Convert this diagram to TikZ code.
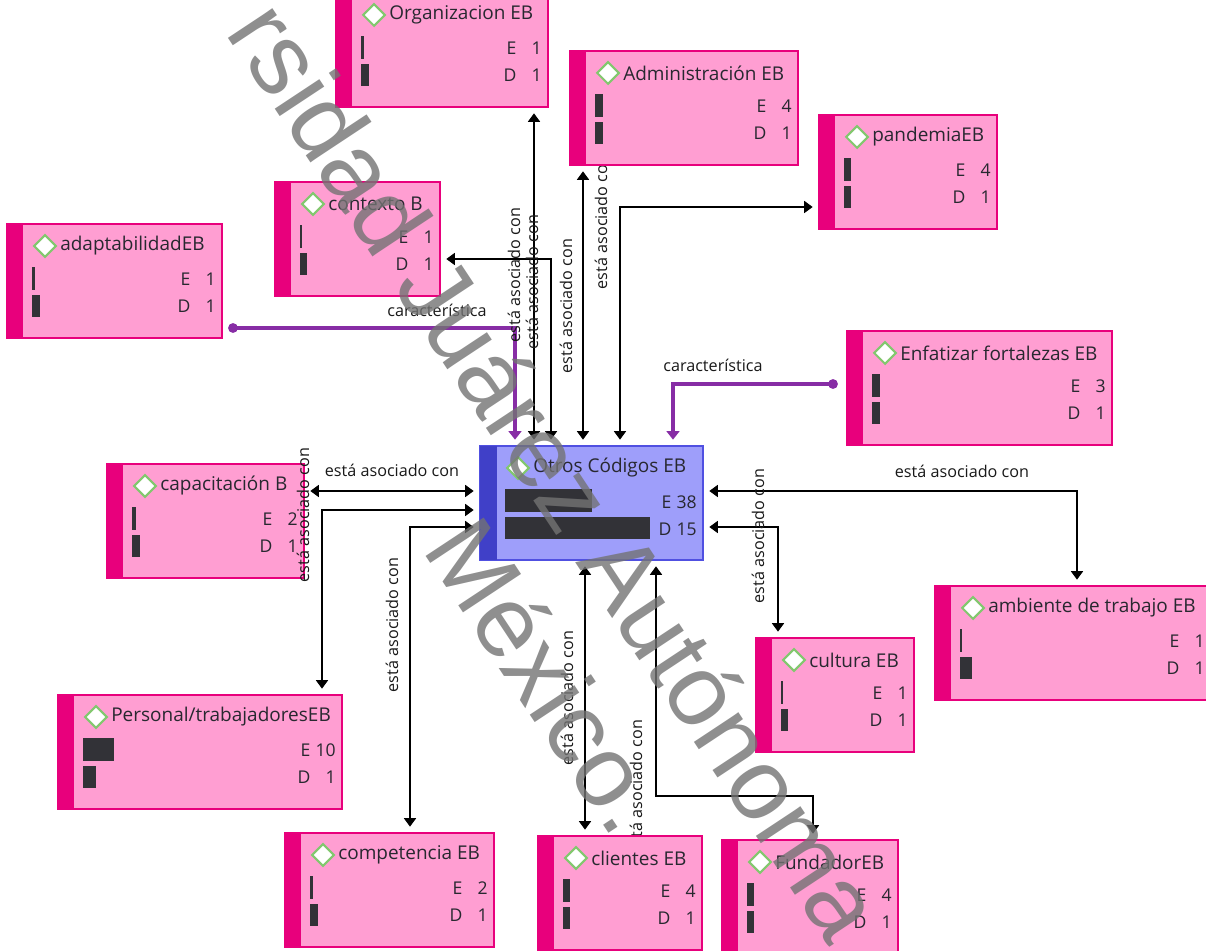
\documentclass[tikz,border=0pt]{standalone}
\usepackage{fontspec}
\setmainfont{Open Sans}
\newfontfamily\wmfont{Liberation Sans}
\usetikzlibrary{arrows.meta}
\usetikzlibrary{fit}
\usetikzlibrary{shapes.geometric}
\definecolor{boxfill}{RGB}{255,158,210}
\definecolor{boxline}{RGB}{232,0,124}
\definecolor{otrosfill}{RGB}{158,158,250}
\definecolor{otrosline}{RGB}{80,80,225}
\definecolor{otrosdark}{RGB}{64,64,200}
\definecolor{icongreen}{RGB}{130,200,110}
\definecolor{bardark}{RGB}{50,50,55}
\definecolor{txtdark}{RGB}{40,40,48}
\definecolor{purpleline}{RGB}{135,45,165}
\pgfdeclarelayer{back}
\pgfsetlayers{back,main}
\tikzset{
codebox/.style={rectangle,draw=boxline,fill=boxfill,line width=1pt,inner sep=0pt},
otrosbox/.style={rectangle,draw=otrosline,fill=otrosfill,line width=1pt,inner sep=0pt},
stripe/.style={fill=boxline},
otrosstripe/.style={fill=otrosdark},
boxicon/.style={diamond,draw=icongreen,fill=white,line width=1.5pt,inner sep=0pt,minimum width=0.56cm,minimum height=0.56cm},
boxtitle/.style={anchor=west,inner sep=0pt,text=txtdark,font=\fontsize{13.5}{15}\selectfont},
boxbar/.style={fill=bardark},
boxcount/.style={anchor=east,inner sep=0pt,text=txtdark,font=\fontsize{12.5}{14}\selectfont},
codelbl/.style={inner sep=0pt,text=black!90,font=\fontsize{11.5}{13}\selectfont},
assoc/.style={draw=black,line width=1.1pt,{Triangle[width=8.5pt,length=6pt]}-{Triangle[width=8.5pt,length=6pt]},shorten <=4pt,shorten >=4pt},
charac/.style={draw=purpleline,line width=2.6pt,-{Triangle[width=9pt,length=6pt]},shorten >=4pt},
enddot/.style={circle,fill=purpleline,inner sep=0pt,minimum size=7pt},
wmark/.style={text=black!55,opacity=0.8,inner sep=0pt,rotate=-56.5,font=\wmfont\fontsize{72}{72}\selectfont}
}
\begin{document}
\begin{tikzpicture}[x=0.025cm,y=-0.025cm]
\useasboundingbox (0,0) rectangle (1206,951);
\clip (0,0) rectangle (1206,951);

% Organizacion EB
\node[codebox,fit={(336,-7) (548,107)}] (org) {};
\fill[stripe] (336,-7) rectangle (352,107);
\node[boxicon] (orgicon) at (374,15) {};
\node[boxtitle] (orgtitle) at (389,15) {Organizacion EB};
\fill[boxbar] (361,36) rectangle (364,59);
\fill[boxbar] (361,64) rectangle (369,86);
\node[boxcount] (orgE) at (542,48) {E\hspace{4pt}\makebox[14pt][r]{1}};
\node[boxcount] (orgD) at (542,75) {D\hspace{4pt}\makebox[14pt][r]{1}};

% Administracion EB
\node[codebox,fit={(570,51) (798,165)}] (adm) {};
\fill[stripe] (570,51) rectangle (586,165);
\node[boxicon] (admicon) at (608,73) {};
\node[boxtitle] (admtitle) at (623,73) {Administración EB};
\fill[boxbar] (595,94) rectangle (603,117);
\fill[boxbar] (595,122) rectangle (603,144);
\node[boxcount] (admE) at (792,106) {E\hspace{4pt}\makebox[14pt][r]{4}};
\node[boxcount] (admD) at (792,133) {D\hspace{4pt}\makebox[14pt][r]{1}};

% pandemiaEB
\node[codebox,fit={(819,115) (997,229)}] (pan) {};
\fill[stripe] (819,115) rectangle (835,229);
\node[boxicon] (panicon) at (857,137) {};
\node[boxtitle] (pantitle) at (872,137) {pandemiaEB};
\fill[boxbar] (844,158) rectangle (851,181);
\fill[boxbar] (844,186) rectangle (851,208);
\node[boxcount] (panE) at (991,170) {E\hspace{4pt}\makebox[14pt][r]{4}};
\node[boxcount] (panD) at (991,197) {D\hspace{4pt}\makebox[14pt][r]{1}};

% contexto B
\node[codebox,fit={(275,182) (440,296)}] (ctx) {};
\fill[stripe] (275,182) rectangle (291,296);
\node[boxicon] (ctxicon) at (313,204) {};
\node[boxtitle] (ctxtitle) at (328,204) {contexto B};
\fill[boxbar] (300,225) rectangle (302,248);
\fill[boxbar] (300,253) rectangle (307,275);
\node[boxcount] (ctxE) at (434,237) {E\hspace{4pt}\makebox[14pt][r]{1}};
\node[boxcount] (ctxD) at (434,264) {D\hspace{4pt}\makebox[14pt][r]{1}};

% adaptabilidadEB
\node[codebox,fit={(7,224) (222,338)}] (ada) {};
\fill[stripe] (7,224) rectangle (23,338);
\node[boxicon] (adaicon) at (45,246) {};
\node[boxtitle] (adatitle) at (60,246) {adaptabilidadEB};
\fill[boxbar] (32,267) rectangle (35,290);
\fill[boxbar] (32,295) rectangle (40,317);
\node[boxcount] (adaE) at (216,279) {E\hspace{4pt}\makebox[14pt][r]{1}};
\node[boxcount] (adaD) at (216,306) {D\hspace{4pt}\makebox[14pt][r]{1}};

% Enfatizar fortalezas EB
\node[codebox,fit={(847,331) (1112,445)}] (enf) {};
\fill[stripe] (847,331) rectangle (863,445);
\node[boxicon] (enficon) at (885,353) {};
\node[boxtitle] (enftitle) at (900,353) {Enfatizar fortalezas EB};
\fill[boxbar] (872,374) rectangle (880,397);
\fill[boxbar] (872,402) rectangle (880,424);
\node[boxcount] (enfE) at (1106,386) {E\hspace{4pt}\makebox[14pt][r]{3}};
\node[boxcount] (enfD) at (1106,413) {D\hspace{4pt}\makebox[14pt][r]{1}};

% Otros Codigos EB
\node[otrosbox,fit={(480,446) (703,560)}] (otros) {};
\fill[otrosstripe] (480,446) rectangle (497,560);
\node[boxicon] (otrosicon) at (518,468) {};
\node[boxtitle] (otrostitle) at (533,468) {Otros Códigos EB};
\fill[boxbar] (505,489) rectangle (592,512);
\fill[boxbar] (505,517) rectangle (650,539);
\node[boxcount] (otrosE) at (697,502) {E\hspace{4pt}\makebox[14pt][r]{38}};
\node[boxcount] (otrosD) at (697,529) {D\hspace{4pt}\makebox[14pt][r]{15}};

% capacitacion B
\node[codebox,fit={(107,464) (304,578)}] (cap) {};
\fill[stripe] (107,464) rectangle (123,578);
\node[boxicon] (capicon) at (145,486) {};
\node[boxtitle] (captitle) at (160,486) {capacitación B};
\fill[boxbar] (132,507) rectangle (136,530);
\fill[boxbar] (132,535) rectangle (140,557);
\node[boxcount] (capE) at (298,519) {E\hspace{4pt}\makebox[14pt][r]{2}};
\node[boxcount] (capD) at (298,546) {D\hspace{4pt}\makebox[14pt][r]{1}};

% ambiente de trabajo EB
\node[codebox,fit={(935,586) (1212,700)}] (amb) {};
\fill[stripe] (935,586) rectangle (951,700);
\node[boxicon] (ambicon) at (973,608) {};
\node[boxtitle] (ambtitle) at (988,608) {ambiente de trabajo EB};
\fill[boxbar] (960,629) rectangle (962,652);
\fill[boxbar] (960,657) rectangle (972,679);
\node[boxcount] (ambE) at (1205,641) {E\hspace{4pt}\makebox[14pt][r]{1}};
\node[boxcount] (ambD) at (1205,668) {D\hspace{4pt}\makebox[14pt][r]{1}};

% cultura EB
\node[codebox,fit={(756,638) (914,752)}] (cul) {};
\fill[stripe] (756,638) rectangle (772,752);
\node[boxicon] (culicon) at (794,660) {};
\node[boxtitle] (cultitle) at (809,660) {cultura EB};
\fill[boxbar] (781,681) rectangle (783,704);
\fill[boxbar] (781,709) rectangle (788,731);
\node[boxcount] (culE) at (908,693) {E\hspace{4pt}\makebox[14pt][r]{1}};
\node[boxcount] (culD) at (908,720) {D\hspace{4pt}\makebox[14pt][r]{1}};

% Personal/trabajadoresEB
\node[codebox,fit={(58,695) (342,809)}] (per) {};
\fill[stripe] (58,695) rectangle (74,809);
\node[boxicon] (pericon) at (96,717) {};
\node[boxtitle] (pertitle) at (111,717) {Personal/trabajadoresEB};
\fill[boxbar] (83,738) rectangle (114,761);
\fill[boxbar] (83,766) rectangle (96,788);
\node[boxcount] (perE) at (336,750) {E\hspace{4pt}\makebox[14pt][r]{10}};
\node[boxcount] (perD) at (336,777) {D\hspace{4pt}\makebox[14pt][r]{1}};

% competencia EB
\node[codebox,fit={(285,833) (494,947)}] (com) {};
\fill[stripe] (285,833) rectangle (301,947);
\node[boxicon] (comicon) at (323,855) {};
\node[boxtitle] (comtitle) at (338,855) {competencia EB};
\fill[boxbar] (310,876) rectangle (313,899);
\fill[boxbar] (310,904) rectangle (318,926);
\node[boxcount] (comE) at (488,888) {E\hspace{4pt}\makebox[14pt][r]{2}};
\node[boxcount] (comD) at (488,915) {D\hspace{4pt}\makebox[14pt][r]{1}};

% clientes EB
\node[codebox,fit={(538,836) (702,950)}] (cli) {};
\fill[stripe] (538,836) rectangle (554,950);
\node[boxicon] (cliicon) at (576,858) {};
\node[boxtitle] (clititle) at (591,858) {clientes EB};
\fill[boxbar] (563,879) rectangle (570,902);
\fill[boxbar] (563,907) rectangle (570,929);
\node[boxcount] (cliE) at (696,891) {E\hspace{4pt}\makebox[14pt][r]{4}};
\node[boxcount] (cliD) at (696,918) {D\hspace{4pt}\makebox[14pt][r]{1}};

% FundadorEB
\node[codebox,fit={(722,840) (898,954)}] (fun) {};
\fill[stripe] (722,840) rectangle (738,954);
\node[boxicon] (funicon) at (760,862) {};
\node[boxtitle] (funtitle) at (775,862) {FundadorEB};
\fill[boxbar] (747,883) rectangle (754,906);
\fill[boxbar] (747,911) rectangle (754,933);
\node[boxcount] (funE) at (892,895) {E\hspace{4pt}\makebox[14pt][r]{4}};
\node[boxcount] (funD) at (892,922) {D\hspace{4pt}\makebox[14pt][r]{1}};

\node[enddot] (adadot) at (233,328) {};
\node[enddot] (enfdot) at (833,384) {};

\begin{pgfonlayer}{back}
\draw[assoc] (otros.north -| 534,0) -- (org.south -| 534,0);
\draw[assoc] (otros.north -| 551,0) |- (ctx.east |- 0,259);
\draw[assoc] (otros.north -| 583,0) -- (adm.south -| 583,0);
\draw[assoc] (otros.north -| 620,0) |- (pan.west |- 0,207);
\draw[assoc] (otros.west |- 0,491) -- (cap.east |- 0,491);
\draw[assoc] (otros.west |- 0,510) -| (per.north -| 322,0);
\draw[assoc] (otros.west |- 0,527) -| (com.north -| 410,0);
\draw[assoc] (otros.east |- 0,491) -| (amb.north -| 1077,0);
\draw[assoc] (otros.east |- 0,527) -| (cul.north -| 778,0);
\draw[assoc] (otros.south -| 585,0) -- (cli.north -| 585,0);
\draw[assoc] (otros.south -| 656,0) -- (656,796) -| (fun.north -| 813,0);
\draw[charac] (adadot.center) -| (otros.north -| 515,0);
\draw[charac] (enfdot.center) -| (otros.north -| 673,0);
\node[codelbl,rotate=90] (lblpan) at (601,222) {está asociado con};
\node[codelbl,rotate=90] (lblfun) at (636,787) {está asociado con};
\end{pgfonlayer}

\node[codelbl,rotate=90] (lblorg) at (514,275) {está asociado con};
\node[codelbl,rotate=90] (lblctx) at (532,282) {está asociado con};
\node[codelbl,rotate=90] (lbladm) at (566,306) {está asociado con};
\node[codelbl] (lblcap) at (392,470) {está asociado con};
\node[codelbl,rotate=90] (lblper) at (303,515) {está asociado con};
\node[codelbl,rotate=90] (lblcom) at (392,625) {está asociado con};
\node[codelbl] (lblamb) at (962,471) {está asociado con};
\node[codelbl,rotate=90] (lblcul) at (758,536) {está asociado con};
\node[codelbl,rotate=90] (lblcli) at (567,698) {está asociado con};
\node[codelbl] (lblada) at (437,310) {característica};
\node[codelbl] (lblenf) at (713,365) {característica};

\node[wmark] (wmone) at (558,470) {rsidad Juárez Autónoma};
\node[wmark] (wmtwo) at (548,675) {México.};
\end{tikzpicture}
\end{document}
